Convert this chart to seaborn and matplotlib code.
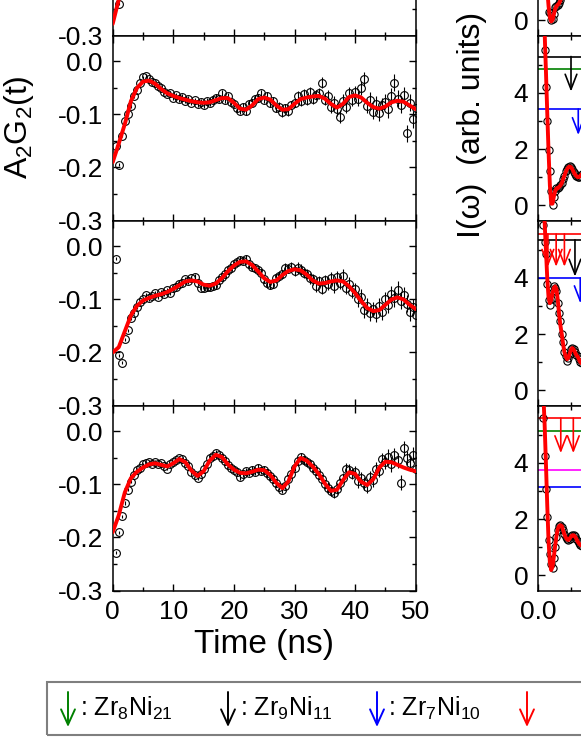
import numpy as np
import pandas as pd
import seaborn as sns
import matplotlib.pyplot as plt
from matplotlib.patches import Rectangle, FancyArrowPatch
from matplotlib.ticker import MultipleLocator, FormatStrFormatter

# ---- time domain data (left column), A2G2(t) ----
time_data = np.arange(1, 101) * 0.5          # ns, sampling grid
time_fit = np.arange(0, 51)                  # ns

# top panel: only its lowest corner is inside the picture
top_time_fit = [0, 1, 2, 3, 4, 5, 10, 20, 30, 40, 50]
top_fit = [-0.278, -0.232, -0.180, -0.130, -0.095, -0.075, -0.070, -0.075, -0.075, -0.078, -0.080]
top_time_data = [1.1, 1.6, 2.1, 2.6, 3.1]
top_data = [-0.240, -0.190, -0.150, -0.120, -0.100]

fit_a = [-0.190, -0.155, -0.118, -0.075, -0.050, -0.038, -0.036, -0.042, -0.052, -0.060,
         -0.065, -0.069, -0.072, -0.075, -0.077, -0.078, -0.077, -0.073, -0.069, -0.069,
         -0.078, -0.089, -0.091, -0.083, -0.071, -0.068, -0.072, -0.083, -0.091, -0.090,
         -0.080, -0.071, -0.068, -0.066, -0.065, -0.070, -0.080, -0.087, -0.080, -0.067,
         -0.064, -0.068, -0.078, -0.086, -0.089, -0.085, -0.077, -0.074, -0.076, -0.083,
         -0.090]
data_a = [-0.160, -0.195, -0.140, -0.113, -0.100, -0.084, -0.065, -0.053, -0.040, -0.030,
          -0.028, -0.033, -0.038, -0.040, -0.046, -0.050, -0.057, -0.062, -0.060, -0.068,
          -0.064, -0.071, -0.067, -0.074, -0.070, -0.078, -0.073, -0.080, -0.076, -0.083,
          -0.075, -0.078, -0.072, -0.068, -0.070, -0.060, -0.072, -0.066, -0.076, -0.080,
          -0.088, -0.093, -0.086, -0.094, -0.080, -0.078, -0.070, -0.068, -0.060, -0.072,
          -0.066, -0.078, -0.075, -0.088, -0.085, -0.096, -0.088, -0.094, -0.082, -0.078,
          -0.065, -0.074, -0.062, -0.072, -0.058, -0.070, -0.063, -0.060, -0.040, -0.072,
          -0.066, -0.085, -0.078, -0.090, -0.104, -0.074, -0.085, -0.060, -0.072, -0.058,
          -0.070, -0.050, -0.033, -0.084, -0.072, -0.095, -0.080, -0.098, -0.082, -0.076,
          -0.090, -0.066, -0.040, -0.070, -0.082, -0.064, -0.135, -0.078, -0.109, -0.088]
err_a = [0.003, 0.004, 0.005, 0.006, 0.007, 0.008, 0.010, 0.012, 0.014, 0.016]

fit_b = [-0.200, -0.190, -0.160, -0.130, -0.112, -0.102, -0.097, -0.093, -0.090, -0.086,
         -0.080, -0.073, -0.066, -0.064, -0.066, -0.072, -0.074, -0.070, -0.060, -0.047,
         -0.036, -0.029, -0.028, -0.035, -0.047, -0.060, -0.067, -0.064, -0.054, -0.046,
         -0.043, -0.045, -0.053, -0.064, -0.070, -0.069, -0.066, -0.064, -0.066, -0.075,
         -0.088, -0.103, -0.116, -0.122, -0.120, -0.110, -0.100, -0.096, -0.100, -0.110,
         -0.118]
data_b = [-0.023, -0.205, -0.219, -0.175, -0.158, -0.135, -0.125, -0.115, -0.105, -0.100,
          -0.092, -0.098, -0.094, -0.088, -0.095, -0.086, -0.090, -0.082, -0.087, -0.078,
          -0.076, -0.070, -0.068, -0.062, -0.065, -0.060, -0.057, -0.068, -0.078, -0.078,
          -0.077, -0.076, -0.074, -0.072, -0.064, -0.058, -0.052, -0.045, -0.040, -0.033,
          -0.030, -0.025, -0.027, -0.024, -0.033, -0.038, -0.040, -0.045, -0.050, -0.062,
          -0.068, -0.072, -0.070, -0.060, -0.056, -0.052, -0.040, -0.042, -0.038, -0.047,
          -0.040, -0.044, -0.050, -0.052, -0.060, -0.062, -0.075, -0.066, -0.080, -0.063,
          -0.070, -0.060, -0.075, -0.058, -0.068, -0.055, -0.078, -0.070, -0.085, -0.080,
          -0.100, -0.095, -0.120, -0.112, -0.126, -0.118, -0.128, -0.112, -0.124, -0.100,
          -0.110, -0.090, -0.098, -0.082, -0.102, -0.092, -0.108, -0.124, -0.115, -0.130]
err_b = [0.003, 0.004, 0.005, 0.006, 0.007, 0.008, 0.010, 0.012, 0.014, 0.016]

fit_c = [-0.190, -0.158, -0.115, -0.088, -0.076, -0.068, -0.062, -0.060, -0.063, -0.066,
         -0.060, -0.052, -0.058, -0.074, -0.084, -0.075, -0.055, -0.044, -0.048, -0.062,
         -0.072, -0.078, -0.079, -0.076, -0.072, -0.073, -0.082, -0.097, -0.107, -0.094,
         -0.066, -0.050, -0.055, -0.066, -0.080, -0.098, -0.112, -0.110, -0.092, -0.077,
         -0.080, -0.095, -0.101, -0.090, -0.068, -0.057, -0.058, -0.063, -0.068, -0.072,
         -0.075]
data_c = [-0.229, -0.190, -0.160, -0.135, -0.110, -0.095, -0.082, -0.072, -0.068, -0.062,
          -0.060, -0.058, -0.061, -0.057, -0.062, -0.060, -0.066, -0.070, -0.062, -0.058,
          -0.054, -0.050, -0.052, -0.060, -0.066, -0.076, -0.082, -0.087, -0.080, -0.070,
          -0.062, -0.050, -0.046, -0.040, -0.045, -0.050, -0.056, -0.064, -0.068, -0.072,
          -0.076, -0.086, -0.080, -0.074, -0.078, -0.072, -0.076, -0.068, -0.074, -0.072,
          -0.078, -0.084, -0.090, -0.098, -0.104, -0.110, -0.102, -0.090, -0.080, -0.068,
          -0.056, -0.048, -0.054, -0.058, -0.062, -0.068, -0.074, -0.082, -0.090, -0.100,
          -0.106, -0.112, -0.116, -0.108, -0.098, -0.088, -0.070, -0.072, -0.080, -0.076,
          -0.094, -0.088, -0.098, -0.104, -0.086, -0.092, -0.070, -0.074, -0.052, -0.058,
          -0.048, -0.062, -0.045, -0.054, -0.097, -0.032, -0.050, -0.060, -0.044, -0.070]
err_c = [0.003, 0.003, 0.004, 0.005, 0.006, 0.007, 0.008, 0.010, 0.012, 0.014]

# ---- frequency domain data (right column), I(omega) ----
omega = np.arange(30) * 0.004 + 0.016
spec_fit = [
    [4.5, 3.2, 2.0, 1.1, 0.5, 0.1, -0.05, 0.0, 0.2, 0.4, 0.5, 0.55, 0.6, 0.7, 0.85,
     1.0, 1.2, 1.4, 1.6, 1.7, 1.75, 1.7, 1.6, 1.5, 1.4, 1.35, 1.3, 1.3, 1.35, 1.4],
    [7.2, 6.2, 4.8, 3.3, 1.9, 0.7, 0.05, 0.05, 0.3, 0.5, 0.6, 0.6, 0.65, 0.7, 0.78,
     0.92, 1.05, 1.18, 1.28, 1.35, 1.38, 1.35, 1.28, 1.18, 1.1, 1.04, 1.0, 1.0, 1.04, 1.1],
    [6.5, 6.0, 5.0, 4.0, 3.3, 3.1, 3.2, 3.45, 3.65, 3.7, 3.6, 3.2, 2.7, 2.3, 2.0,
     1.65, 1.35, 1.2, 1.1, 1.15, 1.3, 1.45, 1.5, 1.45, 1.35, 1.25, 1.2, 1.1, 1.0, 0.95],
    [6.5, 5.4, 4.0, 2.5, 1.2, 0.45, 0.18, 0.3, 0.65, 1.05, 1.4, 1.65, 1.75, 1.78, 1.75,
     1.6, 1.45, 1.35, 1.27, 1.25, 1.3, 1.38, 1.42, 1.42, 1.38, 1.3, 1.2, 1.13, 1.08, 1.05],
]
spec_data = [
    [4.0, 2.9, 1.8, 1.0, 0.3, 0.25, 0.0, 0.05, 0.2, 0.45, 0.5, 0.55, 0.6, 0.72, 0.85,
     1.0, 1.2, 1.4, 1.6, 1.7, 1.75, 1.7, 1.6, 1.5, 1.4, 1.35, 1.3, 1.3, 1.35, 1.4],
    [6.3, 5.55, 4.2, 3.0, 1.95, 1.2, 0.5, 0.0, 0.3, 0.5, 0.6, 0.62, 0.65, 0.72, 0.8,
     0.92, 1.05, 1.2, 1.28, 1.36, 1.4, 1.35, 1.28, 1.18, 1.1, 1.04, 1.0, 1.0, 1.05, 1.1],
    [5.9, 5.3, 4.85, 3.8, 3.2, 3.05, 3.25, 3.5, 3.7, 3.65, 3.55, 3.1, 2.75, 2.45, 2.0,
     1.7, 1.35, 1.2, 1.05, 1.15, 1.3, 1.45, 1.5, 1.45, 1.35, 1.25, 1.2, 1.1, 1.0, 0.95],
    [5.6, 4.25, 3.07, 2.06, 1.24, 0.77, 0.41, 0.25, 0.6, 1.0, 1.35, 1.6, 1.75, 1.8, 1.72,
     1.6, 1.45, 1.35, 1.27, 1.25, 1.3, 1.38, 1.42, 1.42, 1.38, 1.3, 1.2, 1.13, 1.08, 1.05],
]

# phase marker lines: (level, colour) per right panel
phase_levels = [
    [],
    [(5.3, "black"), (4.85, "green"), (3.43, "blue")],
    [(5.57, "red"), (5.36, "black"), (4.0, "blue")],
    [(5.6, "red"), (5.13, "green"), (3.75, "magenta"), (3.15, "blue")],
]
# arrows: (omega, start, end, colour)
phase_arrows = [
    [],
    [(0.100, 5.3, 4.05, "black"), (0.122, 3.43, 2.5, "blue")],
    [(0.030, 5.57, 4.4, "red"), (0.055, 5.57, 4.4, "red"), (0.080, 5.57, 4.4, "red"),
     (0.112, 5.36, 4.05, "black"), (0.128, 4.0, 3.1, "blue")],
    [(0.069, 5.6, 4.35, "red"), (0.107, 5.6, 4.35, "red")],
]

legend_labels = [r": Zr$_{8}$Ni$_{21}$", r": Zr$_{9}$Ni$_{11}$", r": Zr$_{7}$Ni$_{10}$", ""]
legend_colors = ["green", "black", "blue", "red"]

# ---- style ----
sns.set_style("ticks")
plt.rcParams["font.family"] = ["Liberation Sans", "DejaVu Sans"]
plt.rcParams["mathtext.fontset"] = "custom"
plt.rcParams["mathtext.rm"] = "Liberation Sans"
plt.rcParams["mathtext.it"] = "Liberation Sans:italic"
plt.rcParams["axes.unicode_minus"] = False
plt.rcParams["axes.linewidth"] = 1.1
plt.rcParams["text.color"] = "black"
plt.rcParams["axes.edgecolor"] = "black"
plt.rcParams["xtick.color"] = "black"
plt.rcParams["ytick.color"] = "black"

W, H = 581, 752
fig = plt.figure(figsize=(W / 100, H / 100), dpi=100)


def px_rect(x0, y0, w, h):
    return [x0 / W, 1 - (y0 + h) / H, w / W, h / H]


def style_axis(ax):
    ax.tick_params(which="both", direction="in", top=True, right=True,
                   labelsize=19, width=1.0, pad=7, colors="black")
    ax.tick_params(which="major", length=5)
    ax.tick_params(which="minor", length=3)


row_tops = [-149.5, 35.5, 220.5, 405.5]
row_h = 185

left_sets = [
    (top_time_data, top_data, [0.003] * len(top_data), top_time_fit, top_fit),
    (time_data, data_a, np.repeat(err_a, 10), time_fit, fit_a),
    (time_data, data_b, np.repeat(err_b, 10), time_fit, fit_b),
    (time_data, data_c, np.repeat(err_c, 10), time_fit, fit_c),
]

for i, (td, vd, ed, tf, vf) in enumerate(left_sets):
    ax = fig.add_axes(px_rect(112.7, row_tops[i], 303, row_h))
    ax.errorbar(td, vd, yerr=ed, fmt="o", ms=5.6, mfc="none", mec="black", mew=0.8,
                ecolor="black", elinewidth=0.8, capsize=0, zorder=2)
    sns.lineplot(x=tf, y=vf, ax=ax, color="red", lw=2.8, zorder=3)
    ax.set_xlim(0, 50)
    ax.set_ylim(-0.3, 0.049)
    ax.xaxis.set_major_locator(MultipleLocator(10))
    ax.xaxis.set_minor_locator(MultipleLocator(5))
    ax.set_yticks([-0.3, -0.2, -0.1, 0.0])
    ax.yaxis.set_minor_locator(MultipleLocator(0.05))
    if i == 0:
        # the upper part of this panel lies outside the picture
        ax.set_yticklabels(["-0.3", "", "", ""])
    else:
        ax.set_yticklabels(["-0.3", "-0.2", "-0.1", "0.0"])
    ax.set_xlabel("")
    ax.set_ylabel("")
    style_axis(ax)
    if i < 3:
        ax.tick_params(labelbottom=False)

for i in range(4):
    ax = fig.add_axes(px_rect(538, row_tops[i], 303, row_h))
    for level, col in phase_levels[i]:
        ax.axhline(level, color=col, lw=1.2, zorder=1)
    for w, y0, y1, col in phase_arrows[i]:
        ax.annotate("", xy=(w, y1), xytext=(w, y0),
                    arrowprops=dict(arrowstyle="->,head_length=0.9,head_width=0.35",
                                    color=col, lw=1.2, shrinkA=0, shrinkB=0,
                                    mutation_scale=12))
    ax.plot(omega, spec_data[i], "o", ms=5.2, mfc="none", mec="black", mew=0.8, zorder=2)
    sns.lineplot(x=omega, y=spec_fit[i], ax=ax, color="red", lw=2.8, zorder=3)
    ax.set_xlim(0, 0.918)
    ax.set_ylim(-0.55, 6.05)
    ax.set_yticks([0, 2, 4])
    ax.set_yticks([1, 3, 5], minor=True)
    if i == 0:
        ax.set_yticklabels(["0", "", ""])
    else:
        ax.set_yticklabels(["0", "2", "4"])
    ax.set_xticks([0.0, 0.2, 0.4, 0.6, 0.8])
    ax.xaxis.set_minor_locator(MultipleLocator(0.1))
    # only the first label of this axis falls inside the picture
    ax.set_xticklabels(["0.0", "", "", "", ""])
    ax.set_xlabel("")
    ax.set_ylabel("")
    style_axis(ax)
    if i < 3:
        ax.tick_params(labelbottom=False)

# axis titles
fig.text(19 / W, 1 - 127 / H, r"A$_{2}$G$_{2}$(t)", rotation=90, fontsize=23,
         ha="center", va="center")
fig.text(472 / W, 1 - 125 / H, "I(\u03c9)  (arb. units)", rotation=90, fontsize=23,
         ha="center", va="center")
fig.text(264 / W, 1 - 644 / H, "Time (ns)", fontsize=24, ha="center", va="center")

# legend box along the bottom
fig.add_artist(Rectangle((47 / W, 1 - 735 / H), 700 / W, 53 / H, transform=fig.transFigure,
                         fill=False, edgecolor="#7f7f7f", lw=1.5))
arrow_x = [68, 228, 377, 527]
text_x = [80, 240, 388, 539]
for lab, col, ax_, tx in zip(legend_labels, legend_colors, arrow_x, text_x):
    fig.add_artist(FancyArrowPatch((ax_ / W, 1 - 692 / H), (ax_ / W, 1 - 727 / H),
                                   transform=fig.transFigure, color=col, lw=1.4,
                                   arrowstyle="->,head_length=11,head_width=5",
                                   mutation_scale=1, shrinkA=0, shrinkB=0))
    if lab:
        fig.text(tx / W, 1 - 716 / H, lab, fontsize=18, ha="left", va="baseline")

fig.savefig("out.png", dpi=100)
